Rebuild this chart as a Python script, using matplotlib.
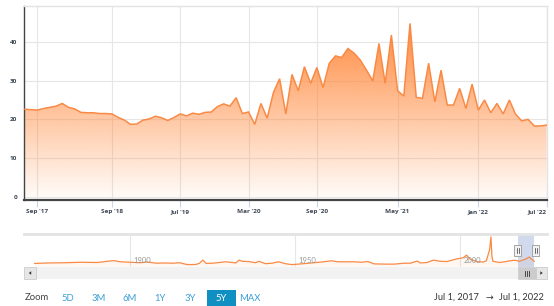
import numpy as np
import matplotlib
matplotlib.use('Agg')
import matplotlib.pyplot as plt
from matplotlib.patches import Rectangle, Polygon
from matplotlib.colors import to_rgb

# ---------------- data ----------------
pe_values = [22.6, 22.5, 22.4, 22.8, 23.1, 23.4, 24.1, 23.1, 22.7, 21.8,
             21.7, 21.7, 21.5, 21.5, 21.4, 20.5, 19.8, 18.7, 18.8, 19.8,
             20.1, 20.8, 20.4, 19.7, 20.5, 21.4, 20.9, 21.6, 21.3, 21.8,
             21.9, 23.3, 24.0, 23.4, 25.6, 21.5, 21.9, 18.7, 24.1, 20.3,
             26.9, 30.5, 21.4, 31.6, 27.4, 33.6, 29.3, 33.4, 28.2, 34.5,
             36.4, 36.0, 38.3, 37.1, 35.3, 32.7, 29.9, 39.6, 29.3, 41.8,
             27.4, 26.0, 44.8, 25.7, 25.4, 34.5, 24.5, 32.7, 23.7, 23.7,
             28.0, 22.8, 29.1, 22.4, 25.0, 21.7, 24.1, 21.4, 25.0, 21.3,
             19.6, 20.0, 18.3, 18.3, 18.5]
tick_index = [2, 14, 25, 36, 47, 60, 73, 84]
tick_labels = ["Sep '17", "Sep '18", "Jul '19", "Mar '20", "Sep '20",
               "May '21", "Jan '22", "Jul '22"]
y_ticks = [0, 10, 20, 30, 40]

nav_years = [1871, 1875, 1880, 1885, 1890, 1893, 1895, 1897, 1900, 1903,
             1905, 1908, 1910, 1913, 1915, 1917, 1918, 1920, 1921, 1922,
             1923, 1925, 1927, 1929, 1931, 1932, 1933, 1934, 1936, 1938,
             1939, 1941, 1943, 1945, 1947, 1949, 1950, 1955, 1958, 1961,
             1963, 1965, 1968, 1970, 1972, 1974, 1978, 1980, 1983, 1985,
             1987, 1988, 1990, 1992, 1994, 1996, 1999, 2001, 2002, 2003,
             2005, 2007, 2008, 2009.0, 2009.4, 2009.7, 2010, 2012, 2014, 2016,
             2017, 2018, 2020, 2021, 2022.5]
nav_values = [11, 13, 14, 16, 15, 20, 23, 18, 16, 14,
              17, 12, 13, 12, 14, 7, 6, 7, 12, 25,
              11, 12, 15, 18, 15, 13, 25, 20, 19, 14,
              20, 10, 12, 18, 10, 6, 7, 13, 17, 22,
              18, 18, 18, 16, 19, 9, 8, 8, 12, 12,
              21, 13, 15, 25, 20, 19, 30, 35, 46, 30,
              19, 17, 22, 70, 123, 40, 20, 15, 19, 24,
              24, 20, 30, 38, 20]
nav_grid_years = [1900, 1950, 2000]
sel_start, sel_end = 2017.5, 2022.5
zoom_buttons = ["5D", "3M", "6M", "1Y", "3Y", "5Y", "MAX"]
selected_button = "5Y"
range_from, range_to = "Jul 1, 2017", "Jul 1, 2022"

# ---------------- figure ----------------
W, H = 554, 306
fig = plt.figure(figsize=(W / 100, H / 100), dpi=100)
fig.patch.set_facecolor('white')

def px_axes(x0, y0, x1, y1, **kw):
    return fig.add_axes([x0 / W, 1 - y1 / H, (x1 - x0) / W, (y1 - y0) / H], **kw)

line_color = '#f98a45'
base = np.array(to_rgb('#ff893c'))
tick_font = dict(family='Open Sans', fontsize=4.6, fontweight='bold', color='#3d4654')

# ---------------- main chart ----------------
ax = px_axes(24, 6, 547, 200)
x = np.arange(len(pe_values))
vals = np.array(pe_values)
ax.set_xlim(-0.16, 84.06)
ax.set_ylim(-0.85, 49.3)

poly = ax.fill_between(x, vals, 0, color='none', lw=0)
ny = 400
yy = np.linspace(-0.85, 49.3, ny)
alpha = np.clip((yy - (-0.85)) / (44 - (-0.85)), 0, 1) * 0.95 + 0.02
img = np.zeros((ny, 2, 4))
img[..., :3] = base
img[..., 3] = alpha[:, None]
im = ax.imshow(img, extent=[-0.16, 84.06, -0.85, 49.3], origin='lower',
               aspect='auto', zorder=1, interpolation='bilinear')
im.set_clip_path(poly.get_paths()[0], transform=ax.transData)
ax.plot(x, vals, color=line_color, lw=1.1, zorder=3, solid_joinstyle='miter')

ax.set_yticks(y_ticks)
ax.set_yticklabels([str(v) for v in y_ticks], **tick_font)
ax.set_xticks(tick_index)
xt = ax.set_xticklabels(tick_labels, **tick_font)
xt[-1].set_horizontalalignment('right')
ax.tick_params(axis='y', length=0, pad=5)
ax.tick_params(axis='x', length=5, width=0.8, color='#ccd6eb', pad=1.5)
ax.grid(True, color='#e6e6e6', lw=0.8, zorder=0)
ax.set_axisbelow(True)
for s in ['top', 'right']:
    ax.spines[s].set_color('#e3e3e3')
    ax.spines[s].set_linewidth(1.0)
ax.spines['left'].set_color('#444444')
ax.spines['left'].set_linewidth(1.0)
ax.spines['bottom'].set_color('#444444')
ax.spines['bottom'].set_linewidth(1.6)

# ---------------- navigator ----------------
nav = px_axes(24, 234, 547, 267)
nav.set_xlim(1867.76, 2026.4)
nav.set_ylim(-4, 135)
nav.fill_between(nav_years, nav_values, 0, color=line_color, alpha=0.07, lw=0)
nav.plot(nav_years, nav_values, color=line_color, lw=0.9)
for gy in nav_grid_years:
    nav.axvline(gy, color='#e6e6e6', lw=0.8, zorder=0)
    nav.text(gy + 1.0, 10, str(gy), fontsize=5.5, color='#999999',
             family='Lato', va='bottom', ha='left')
nav.axvspan(sel_start, sel_end, color=(102 / 255, 133 / 255, 194 / 255), alpha=0.3, lw=0)
nav.set_xticks([])
nav.set_yticks([])
for s in ['left', 'right', 'bottom']:
    nav.spines[s].set_visible(False)
nav.spines['top'].set_color('#e3e3e3')
nav.spines['top'].set_linewidth(2.0)

# ---------------- overlay (scrollbar, buttons) ----------------
ov = fig.add_axes([0, 0, 1, 1], zorder=10)
ov.set_xlim(0, W)
ov.set_ylim(H, 0)
ov.axis('off')

# navigator handles
for hx in [517.7, 535.7]:
    ov.add_patch(Rectangle((hx - 3.5, 245), 7, 11, fc='#f2f2f2', ec='#999999', lw=0.6))
    ov.plot([hx - 1, hx - 1], [248, 253], color='#333333', lw=0.5)
    ov.plot([hx + 1, hx + 1], [248, 253], color='#333333', lw=0.5)

# scrollbar
ov.add_patch(Rectangle((24, 267), 523, 12, fc='#f2f2f2', ec='none'))
ov.add_patch(Rectangle((517.7, 267), 18, 12, fc='#cccccc', ec='#cccccc', lw=0.5))
for gx in [-1.8, 0, 1.8]:
    ov.plot([526.7 + gx, 526.7 + gx], [270.5, 275.5], color='#333333', lw=0.6)
ov.add_patch(Rectangle((24, 267), 12, 12, fc='#e6e6e6', ec='#cccccc', lw=0.6))
ov.add_patch(Rectangle((536, 267), 11, 12, fc='#e6e6e6', ec='#cccccc', lw=0.6))
ov.add_patch(Polygon([[28.8, 273], [31.2, 271.2], [31.2, 274.8]], closed=True, fc='#333333', ec='none'))
ov.add_patch(Polygon([[542.7, 273], [540.3, 271.2], [540.3, 274.8]], closed=True, fc='#333333', ec='none'))

# range selector
ov.text(25, 298, "Zoom", fontsize=6.8, family='Lato', color='#444444', va='center', ha='left')
btn_x = [67.7, 98.7, 129.3, 160.3, 190.3, 221.3, 250.3]
for lbl, bx in zip(zoom_buttons, btn_x):
    if lbl == selected_button:
        ov.add_patch(Rectangle((206.7, 289.7), 29.6, 17, fc='#0f8fc2', ec='none'))
        ov.text(bx, 298.5, lbl, fontsize=6.8, family='Lato', color='white', va='center', ha='center')
    else:
        ov.text(bx, 298.5, lbl, fontsize=6.8, family='Lato', color='#3e9fd6', va='center', ha='center')

ov.text(434, 297.3, range_from, fontsize=6.7, family='Lato', color='#333333', va='center', ha='left')
ov.text(489, 297.3, "\u2192", fontsize=6.7, family='DejaVu Sans', color='#333333', va='center', ha='center')
ov.text(544, 297.3, range_to, fontsize=6.7, family='Lato', color='#333333', va='center', ha='right')

fig.savefig('out.png', dpi=100, facecolor='white')
